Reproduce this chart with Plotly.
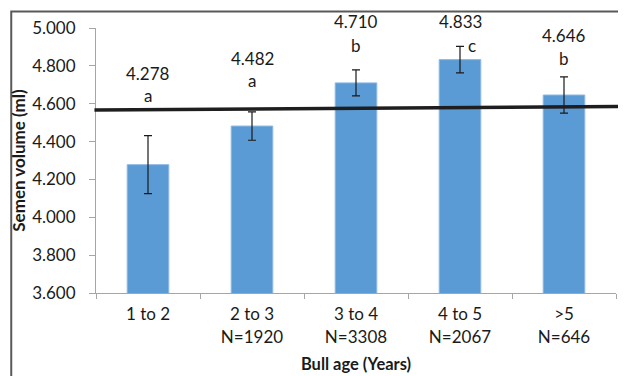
import plotly.graph_objects as go

categories = ["1 to 2", "2 to 3<br>N=1920", "3 to 4<br>N=3308", "4 to 5<br>N=2067", ">5<br>N=646"]
means = [4.278, 4.482, 4.710, 4.833, 4.646]
errors = [0.153, 0.075, 0.069, 0.070, 0.096]
letters = ["a", "a", "b", "c", "b"]
mean_line = [4.567, 4.586]  # start / end of overall line

Y_MIN, Y_MAX = 3.6, 5.0

# label placements (offsets above bar value, in data units)
value_label_offset = [0.484, 0.359, 0.322, 0.199, 0.312]
letter_label_offset = [0.363, 0.238, 0.200, 0.077, 0.195]
letter_x_shift = [0, 0, 0, 12, 0]

font = "Lato, Calibri, Carlito, sans-serif"
FS = 17

fig = go.Figure()
fig.add_trace(go.Bar(
    x=categories, y=means, width=0.4,
    marker=dict(color="#5B9BD5", line=dict(color="#8DB8E3", width=1)),
    error_y=dict(type="data", array=errors, color="#1a1a1a", thickness=1.2, width=4),
    showlegend=False,
))

def to_paper(v):
    return (v - Y_MIN) / (Y_MAX - Y_MIN)

annotations = []
for c, m, lt, vo, lo, dx in zip(categories, means, letters, value_label_offset, letter_label_offset, letter_x_shift):
    annotations.append(dict(x=c, y=to_paper(m + vo), text=f"{m:.3f}", showarrow=False, xref="x", yref="paper",
                            yanchor="middle", font=dict(family=font, size=FS, color="#1a1a1a")))
    annotations.append(dict(x=c, y=to_paper(m + lo), text=lt, showarrow=False, xref="x", yref="paper", xshift=dx,
                            yanchor="middle", font=dict(family=font, size=FS, color="#1a1a1a")))

fig.update_layout(
    width=626, height=376,
    margin=dict(l=88, r=18, t=20, b=91),
    paper_bgcolor="white", plot_bgcolor="white",
    font=dict(family=font, size=FS, color="#1a1a1a"),
    annotations=annotations,
    shapes=[
        dict(type="rect", xref="paper", yref="paper", x0=-0.163, x1=1.5, y0=-0.6, y1=1.062,
             line=dict(color="#595959", width=2), fillcolor="rgba(0,0,0,0)", layer="above"),
        dict(type="line", xref="paper", yref="y", x0=-0.003, x1=1.03, y0=mean_line[0], y1=mean_line[1],
             line=dict(color="#1e1e1e", width=3.5)),
    ],
)
fig.update_yaxes(
    automargin=False,
    range=[Y_MIN, Y_MAX], dtick=0.2, tickformat=".3f", showgrid=False,
    showline=True, linecolor="#a6a6a6", linewidth=1, ticks="outside", ticklen=6, tickcolor="#a6a6a6",
    ticklabelstandoff=10,
    title=dict(text="<b>Semen volume (ml)</b>", font=dict(family=font, size=17), standoff=9),
    tickfont=dict(family=font, size=FS),
)
fig.update_xaxes(
    automargin=False,
    showgrid=False, showline=True, linecolor="#a6a6a6", linewidth=1,
    ticks="outside", ticklen=5, tickcolor="#a6a6a6", tickson="boundaries",
    ticklabelstandoff=6,
    title=dict(text="<b>Bull age (Years)</b>", font=dict(family=font, size=16.5), standoff=12),
    tickfont=dict(family=font, size=FS),
)

fig.write_html("out.html")
